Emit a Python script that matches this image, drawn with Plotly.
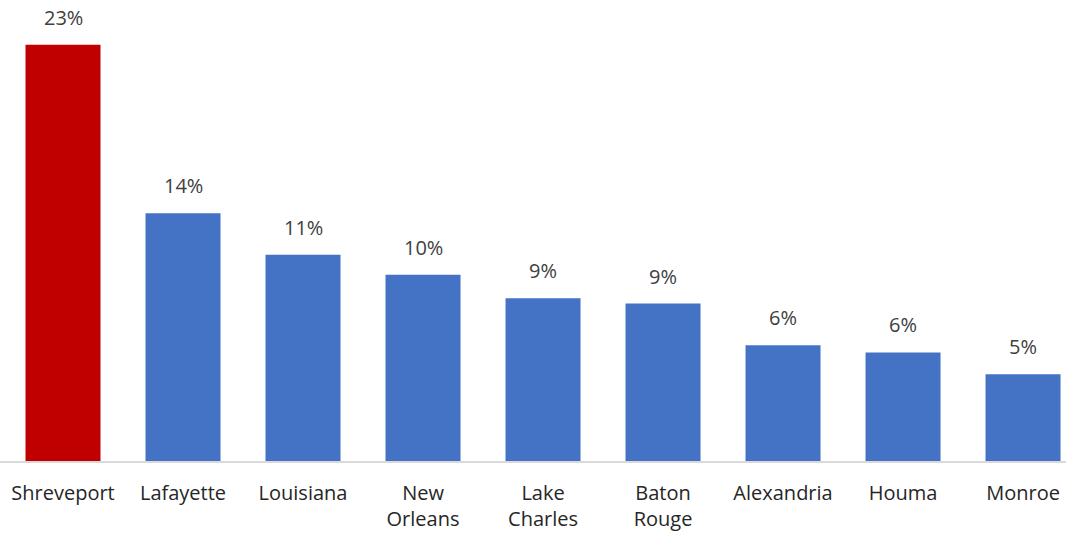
import plotly.graph_objects as go

# share by city
cities = ["Shreveport", "Lafayette", "Louisiana", "New<br>Orleans", "Lake<br>Charles",
          "Baton<br>Rouge", "Alexandria", "Houma", "Monroe"]
shares = [23.0, 13.7, 11.4, 10.3, 9.0, 8.7, 6.4, 6.0, 4.8]
labels = ["23%", "14%", "11%", "10%", "9%", "9%", "6%", "6%", "5%"]
bar_colors = ["#c00000"] + ["#4472c4"] * 8

fnt = "Open Sans, Lato, sans-serif"

fig = go.Figure()
fig.add_trace(go.Bar(
    x=cities, y=shares,
    marker=dict(color=bar_colors, line=dict(width=0)),
    hoverinfo="skip",
))

# value labels above bars
for c, v, t in zip(cities, shares, labels):
    fig.add_annotation(x=c, y=v, text=t, showarrow=False, yanchor="bottom", yshift=12,
                       font=dict(family=fnt, size=20, color="#404040"))

fig.update_layout(
    width=1066, height=533,
    margin=dict(l=0, r=0, t=0, b=72),
    plot_bgcolor="white", paper_bgcolor="white",
    bargap=0.375,
    showlegend=False,
    font=dict(family=fnt, size=20, color="#262626"),
)
fig.update_xaxes(
    range=[-0.525, 8.358], showline=True, linecolor="#d9d9d9", linewidth=2,
    ticks="", ticklabelstandoff=13, tickfont=dict(family=fnt, size=20, color="#262626"),
)
fig.update_yaxes(range=[0, 25.48], visible=False, showgrid=False)

# drop the default body margin so the figure fills the window exactly
fig.write_html("out.html", config={"displayModeBar": False},
               post_script="document.body.style.margin='0';document.body.style.overflow='hidden';")
